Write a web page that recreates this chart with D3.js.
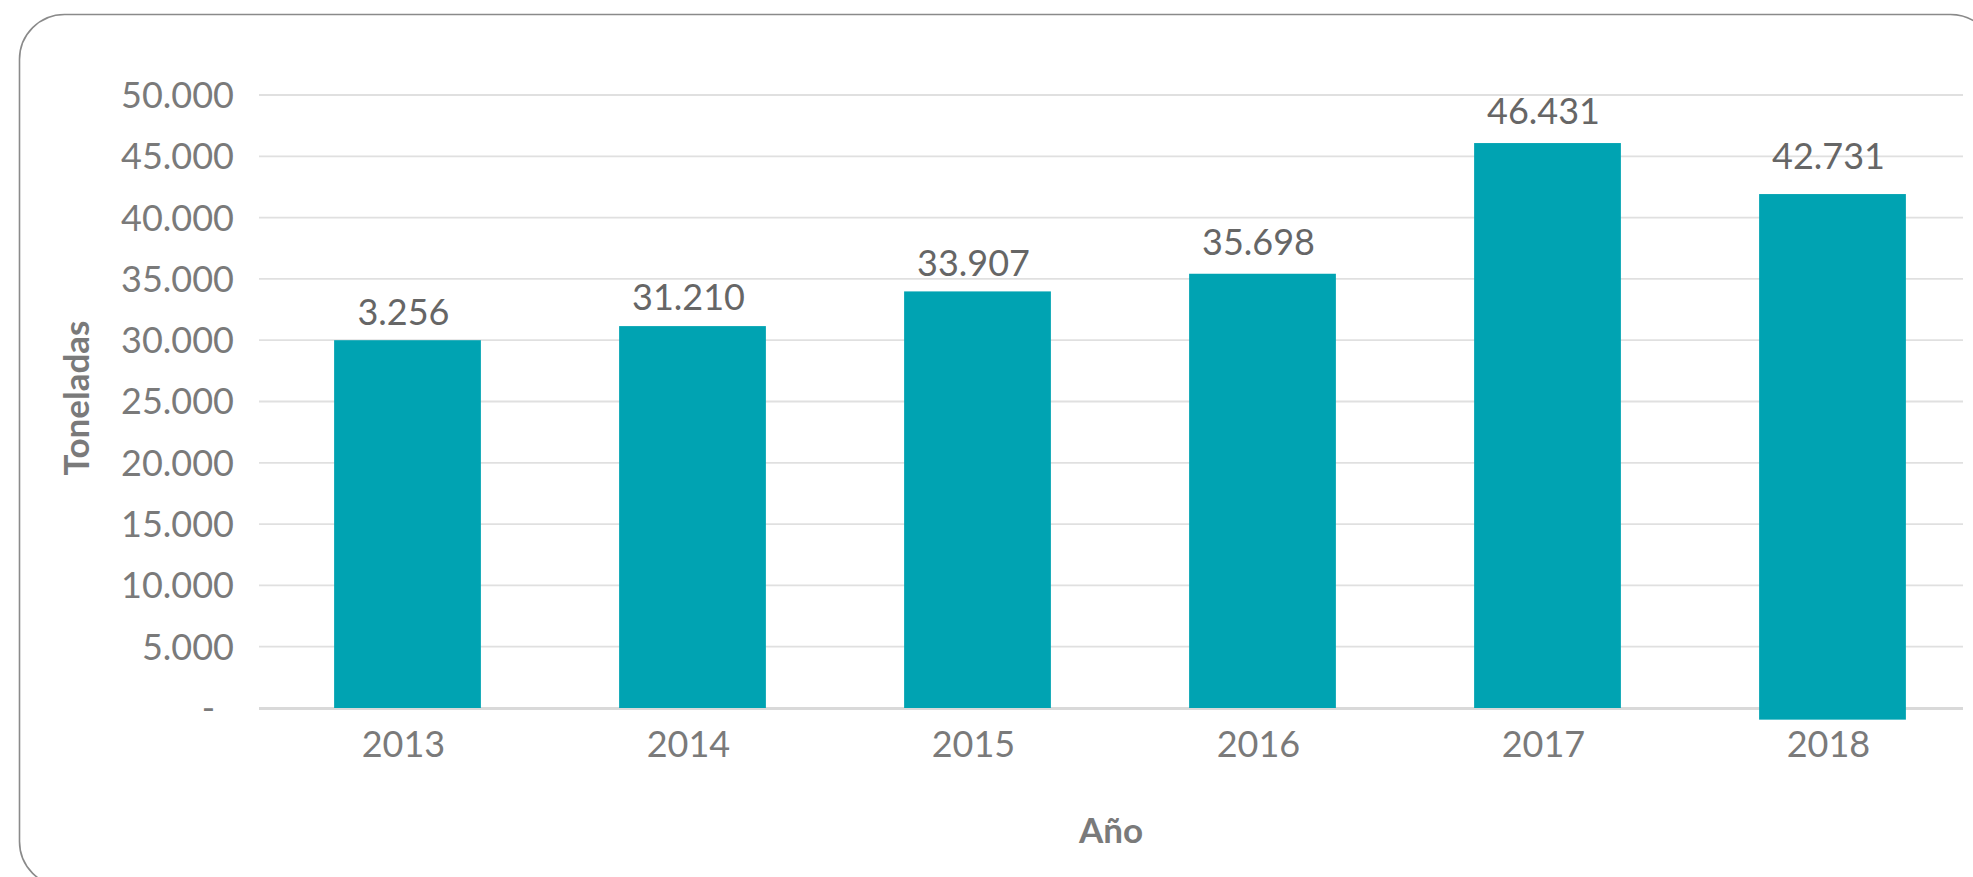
<!DOCTYPE html>
<html>
<head>
<meta charset="utf-8">
<script src="https://cdn.jsdelivr.net/npm/d3@7/dist/d3.min.js"></script>
<style>
  html, body { margin: 0; padding: 0; background: #ffffff; }
  svg { display: block; }
  text { font-family: Lato, "Open Sans", "Noto Sans", sans-serif; }
</style>
</head>
<body>
<svg id="chart" width="1973" height="877"></svg>
<script>
// ---- data ----
const years = ["2013", "2014", "2015", "2016", "2017", "2018"];
const values = [30000, 31150, 33980, 35420, 46080, 41920];      // bar heights
const barBase = [0, 0, 0, 0, 0, -950];                          // 2018 bar dips below the axis in the original
const valueLabels = ["3.256", "31.210", "33.907", "35.698", "46.431", "42.731"];
const yTicks = [0, 5000, 10000, 15000, 20000, 25000, 30000, 35000, 40000, 45000, 50000];
const yTickLabels = ["-", "5.000", "10.000", "15.000", "20.000", "25.000", "30.000", "35.000", "40.000", "45.000", "50.000"];
const yTitle = "Toneladas";
const xTitle = "Año";

// ---- layout ----
const svg = d3.select("#chart");

// card
svg.append("rect")
  .attr("x", 19.5).attr("y", 14.5)
  .attr("width", 1976).attr("height", 872)
  .attr("rx", 45).attr("ry", 45)
  .attr("fill", "#ffffff")
  .attr("stroke", "#8a8a8a")
  .attr("stroke-width", 1.6);

const gridLeft = 259, gridRight = 1963;
const x = d3.scaleBand().domain(years).range([265, 1975]).paddingInner(0.485).paddingOuter(0.2425);
const y = d3.scaleLinear().domain([0, 50000]).range([708, 95]);
const textShift = -4;

// gridlines
svg.append("g").selectAll("line")
  .data(yTicks.filter(d => d !== 0))
  .join("line")
  .attr("x1", gridLeft).attr("x2", gridRight)
  .attr("y1", d => y(d)).attr("y2", d => y(d))
  .attr("stroke", "#e0e0e0").attr("stroke-width", 1.8);

// baseline
svg.append("line")
  .attr("x1", gridLeft).attr("x2", gridRight)
  .attr("y1", y(0) + 0.5).attr("y2", y(0) + 0.5)
  .attr("stroke", "#d9d9d9").attr("stroke-width", 2.8);

// y tick labels
svg.append("g").selectAll("text")
  .data(yTicks)
  .join("text")
  .attr("x", d => d === 0 ? 215 : 234)
  .attr("y", d => y(d))
  .attr("dy", "0.36em")
  .attr("text-anchor", "end")
  .attr("font-size", 36)
  .attr("fill", "#7a7a7a")
  .text((d, i) => yTickLabels[i]);

// bars
svg.append("g").selectAll("rect")
  .data(years)
  .join("rect")
  .attr("x", d => x(d))
  .attr("width", x.bandwidth())
  .attr("y", (d, i) => y(values[i]))
  .attr("height", (d, i) => y(barBase[i]) - y(values[i]))
  .attr("fill", "#00a3b2");

// value labels
const parseLabel = s => +s.replace(/\./g, "");
svg.append("g").selectAll("text")
  .data(years)
  .join("text")
  .attr("x", d => x(d) + x.bandwidth() / 2 + textShift)
  .attr("y", (d, i) => Math.min(y(values[i]), y(parseLabel(valueLabels[i]))) - 15)
  .attr("text-anchor", "middle")
  .attr("font-size", 36)
  .attr("fill", "#666666")
  .text((d, i) => valueLabels[i]);

// x tick labels
svg.append("g").selectAll("text")
  .data(years)
  .join("text")
  .attr("x", d => x(d) + x.bandwidth() / 2 + textShift)
  .attr("y", 756.5)
  .attr("text-anchor", "middle")
  .attr("font-size", 36)
  .attr("fill", "#7a7a7a")
  .text(d => d);

// axis titles
svg.append("text")
  .attr("x", (gridLeft + gridRight) / 2)
  .attr("y", 843)
  .attr("text-anchor", "middle")
  .attr("font-size", 35)
  .attr("font-weight", "bold")
  .attr("fill", "#7a7a7a")
  .text(xTitle);

svg.append("text")
  .attr("transform", "translate(89," + 398 + ") rotate(-90)")
  .attr("text-anchor", "middle")
  .attr("font-size", 35)
  .attr("font-weight", "bold")
  .attr("fill", "#7a7a7a")
  .text(yTitle);
</script>
</body>
</html>
